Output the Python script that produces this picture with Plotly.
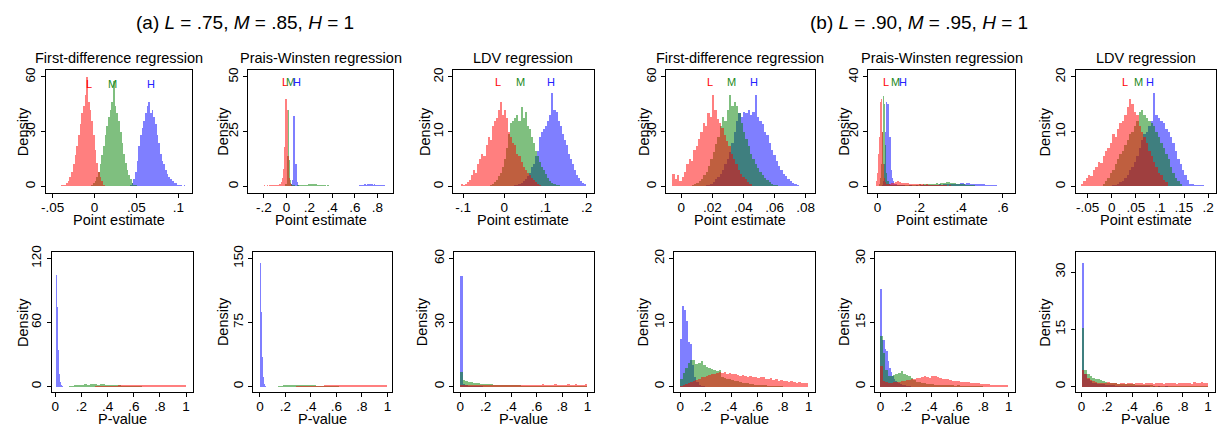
import plotly.graph_objects as go

W, H = 1225, 427

# ---------------- DATA (histogram densities: start, bin width, heights) ----------------
# (a) First-difference, point estimates
fd_a_L_bin = (-0.040, 0.002)
fd_a_L = [1, 1, 0.5, 2, 3, 5, 8, 12, 17, 22, 28, 34, 40, 44, 50, 60, 46, 42, 36, 28, 20, 13, 8, 5, 3, 1]
fd_a_M_bin = (-0.004, 0.002)
fd_a_M = [1, 2, 3, 5, 8, 12, 17, 22, 28, 33, 38, 42, 46, 58, 44, 40, 36, 30, 24, 18, 13, 9, 6, 4, 2, 1, 1]
fd_a_H_bin = (0.042, 0.002)
fd_a_H = [1, 2, 4, 8, 14, 22, 28, 32, 36, 40, 44, 46, 40, 42, 38, 34, 28, 24, 18, 14, 12, 9, 7, 5, 4, 3, 2, 2, 1, 1, 1, 0, 1]

# (a) Prais-Winsten, point estimates
pw_a_L_bin = (-0.29, 0.01)
pw_a_L = [0.2, 0.3, 0.2, 0.3, 0.2, 0.2, 0.3, 0.3, 0.2, 0.4, 0.3, 0.3, 0.4, 0.3, 0.4, 0.5, 0.4, 0.5, 0.6, 0.5,
          0.7, 0.8, 0.9, 1.2, 2, 4, 8, 18, 40, 35, 14, 4, 1.5, 0.5]
pw_a_M_bin = (-0.01, 0.01)
pw_a_M = [1, 14, 35, 12, 3, 1, 0.5, 0.4, 0.3, 0.3, 0.4, 0.5, 0.4, 0.5, 0.6, 0.5, 0.6, 0.7, 0.6, 0.8, 0.9, 1.0,
          1.1, 1.2, 1.0, 1.1, 0.9, 1.0, 0.8, 0.7, 0.8, 0.6, 0.5, 0.6, 0.4, 0.5, 0.3, 0.4, 0.3, 0.2, 0.3, 0.2, 0.2,
          0.1, 0.1]
pw_a_H_bin = (0.04, 0.01)
pw_a_H = [1, 3, 32, 10, 10, 2, 0.5]
pw_a_H_tail_bin = (0.63, 0.01)
pw_a_H_tail = [0.3, 0.5, 0.6, 0.8, 0.7, 0.9, 1, 0.8, 0.9, 1.1, 1, 0.9, 1, 0.8, 0.9, 0.7, 0.8, 0.6, 0.7, 0.5, 0.6,
               0.5, 0.4, 0.4, 0.3, 0.3, 0.2]

# (a) LDV, point estimates
ldv_a_L_bin = (-0.105, 0.005)
ldv_a_L = [0.5, 0.3, 0.5, 0.8, 1.2, 2, 3, 2.5, 4, 5, 6, 5.5, 7.5, 9, 8.5, 11, 12, 12.5, 14, 15.5, 13, 14, 12.5,
           10, 9, 8, 7.5, 6, 5.5, 4.5, 3.5, 3, 2.5, 2, 1.5, 1.2, 0.8, 0.5, 0.3]
ldv_a_M_bin = (-0.035, 0.005)
ldv_a_M = [0.3, 0.5, 0.8, 1.2, 1.8, 2.5, 3.5, 5, 7, 9.5, 11.5, 12, 12.5, 13, 12, 14.5, 12.5, 13.5, 11, 10.5, 9, 8,
           6.5, 5.5, 4.5, 3.5, 3, 2.2, 1.5, 1, 0.7, 0.5, 0.3, 0.2]
ldv_a_H_bin = (0.025, 0.005)
ldv_a_H = [0.2, 0.3, 0.4, 0.6, 0.9, 1.3, 1.8, 2.5, 3.5, 4, 5.5, 6.5, 9, 10, 10.5, 11, 12, 13, 17, 14, 13.5, 12, 11,
           9.5, 8.5, 7.5, 6, 5, 4, 3, 2, 1.5, 1, 0.6, 0.4]

# (b) First-difference, point estimates
fd_b_L_bin = (-0.0055, 0.0015)
fd_b_L = [7, 4, 6, 3, 5, 8, 12, 15, 14, 20, 22, 26, 30, 35, 33, 40, 38, 50, 42, 37, 35, 32, 28, 25, 22, 18, 15, 12,
          9, 7, 5, 4, 2.5, 1.5]
fd_b_M_bin = (0.007, 0.0015)
fd_b_M = [1, 1.5, 2, 3, 4, 6, 8, 11, 15, 19, 23, 27, 33, 38, 36, 42, 50, 44, 46, 44, 40, 35, 30, 26, 22, 18, 15, 12,
          10, 8, 6, 4.5, 3.5, 2.5, 1.5, 1, 0.5]
fd_b_H_bin = (0.016, 0.0015)
fd_b_H = [0.5, 1, 1.5, 2.5, 4, 5, 7, 9, 12, 15, 19, 24, 30, 36, 40, 38, 41, 40, 42, 39, 41, 50, 38, 36, 34, 30, 28,
          24, 20, 17, 14, 11, 9, 7, 5.5, 4, 3, 2, 1.5, 1]

# (b) Prais-Winsten, point estimates
pw_b_L_bin = (-0.005, 0.005)
pw_b_L = [2, 5, 12, 18, 31, 32, 20, 8, 3, 1.5, 1, 0.8]
pw_b_L_tail_bin = (0.055, 0.01)
pw_b_L_tail = [1.0, 1.1, 1.3, 1.6, 1.8, 1.5, 1.4, 1.2, 1.3, 1.1, 1.0, 0.9, 1.0, 0.8, 0.9, 0.7, 0.8, 0.6, 0.7, 0.6,
               0.5, 0.6, 0.5, 0.5, 0.4, 0.5, 0.4, 0.4, 0.3, 0.4, 0.3, 0.3, 0.3, 0.2, 0.3, 0.2, 0.2, 0.2, 0.2, 0.15,
               0.2, 0.1, 0.15, 0.1, 0.1, 0.1, 0.1, 0.05, 0.1, 0.05, 0.05, 0.05, 0.05, 0.05, 0.05]
pw_b_M_bin = (0.01, 0.005)
pw_b_M = [1, 3, 8, 20, 33, 30, 15, 5, 2, 1]
pw_b_M_tail_bin = (0.06, 0.01)
pw_b_M_tail = [0.6, 0.5, 0.5, 0.4, 0.4, 0.5, 0.4, 0.5, 0.5, 0.4, 0.5, 0.6, 0.5, 0.6, 0.7, 0.6, 0.7, 0.8, 0.7, 0.8,
               0.9, 1.0, 1.1, 1.0, 1.2, 1.4, 1.3, 1.5, 1.6, 1.4, 1.2, 1.3, 1.0, 0.9, 0.8, 0.7, 0.6, 0.6, 0.5, 0.4,
               0.4, 0.3, 0.3, 0.3, 0.2, 0.2, 0.2, 0.1, 0.1, 0.1]
pw_b_H_bin = (0.025, 0.005)
pw_b_H = [0.5, 2, 8, 20, 31, 30, 18, 18, 6, 3, 2, 1]
pw_b_H_tail_bin = (0.085, 0.01)
pw_b_H_tail = [0.8, 0.6, 0.5, 0.4, 0.4, 0.3, 0.3, 0.4, 0.3, 0.3, 0.4, 0.3, 0.4, 0.4, 0.5, 0.4, 0.5, 0.5, 0.6, 0.5,
               0.6, 0.7, 0.6, 0.7, 0.8, 0.7, 0.8, 0.9, 0.8, 0.9, 1.0, 1.1, 1.2, 1.0, 1.1, 1.2, 1.0, 0.9, 1.0, 0.8,
               0.9, 0.7, 0.8, 0.6, 0.6, 0.5, 0.5, 0.4, 0.4, 0.3, 0.3, 0.2, 0.2]

# (b) LDV, point estimates
ldv_b_L_bin = (-0.065, 0.005)
ldv_b_L = [0.5, 1, 1.5, 2, 1.8, 3, 3.5, 4.5, 4.2, 5.5, 6.5, 7, 8, 9.5, 9, 10.5, 11.5, 12, 13, 14.5, 16, 15, 13.5,
           13, 11, 10, 9, 8, 6.5, 5.5, 4.5, 3.5, 2.5, 2, 1.2, 0.8]
ldv_b_M_bin = (-0.02, 0.005)
ldv_b_M = [0.5, 1, 1.5, 2.5, 3, 4, 5, 6, 6.5, 7.5, 8.5, 9.5, 10, 11, 12, 13.5, 14, 13, 12.5, 12, 11.5, 11, 10, 9,
           8, 7, 6, 5, 3.5, 2.5, 1.5, 1, 0.5]
ldv_b_H_bin = (0.0, 0.005)
ldv_b_H = [0.2, 0.3, 0.5, 0.8, 1, 1.5, 2, 3, 3.5, 4.5, 5.5, 7, 8.5, 9.5, 10, 11, 12, 17, 13, 12.5, 12, 11.5, 10.5,
           10, 9, 8, 6.5, 5, 4, 3, 2, 1.2, 0.5, 0.4, 0.3, 0.3, 0.2, 0.3]

# (a) P-values
fd_pa_H_bin = (0.0, 0.008)
fd_pa_H = [105, 75, 35, 12, 5, 2, 1]
fd_pa_M_bin = (0.10, 0.02)
fd_pa_M = [0.8, 1, 1.5, 1.8, 2, 2.2, 2.5, 2.4, 2.6, 2.5, 2.8, 2.4, 2.6, 2.5, 2.3, 2.4, 2.2, 2, 1.8, 1.6, 1.4, 1.2,
           1, 0.9, 0.8, 0.7, 0.6, 0.6, 0.5, 0.5, 0.4, 0.4, 0.4, 0.3, 0.3, 0.3, 0.3, 0.2, 0.2, 0.2, 0.2, 0.2, 0.1,
           0.1, 0.1]
fd_pa_L_bin = (0.20, 0.02)
fd_pa_L = [0.2, 0.3, 0.3, 0.4, 0.5, 0.6, 0.7, 0.8, 0.9, 1, 1.1, 1.2, 1.3, 1.4, 1.5, 1.6, 1.6, 1.7, 1.8, 1.7, 1.8,
           1.9, 1.8, 1.7, 2, 1.8, 1.9, 1.8, 1.7, 1.9, 1.8, 2, 1.8, 1.9, 1.7, 1.8, 2.2, 1.9, 1.8, 2.4]

pw_pa_H_bin = (0.0, 0.008)
pw_pa_H = [145, 88, 35, 12, 4, 1]
pw_pa_M_bin = (0.12, 0.02)
pw_pa_M = [0.5, 1, 1.5, 2, 2.2, 2.5, 2.8, 3, 2.7, 2.9, 2.6, 2.8, 2.5, 2.4, 2.2, 2, 1.8, 1.6, 1.4, 1.2, 1, 0.9, 0.8,
           0.8, 0.7, 0.6, 0.6, 0.5, 0.5, 0.4, 0.4, 0.3, 0.3, 0.3, 0.3, 0.2, 0.2, 0.2, 0.2, 0.2, 0.1, 0.1, 0.1, 0.1]
pw_pa_L_bin = (0.02, 0.02)
pw_pa_L = [0.3, 0.3, 0.2, 0.3, 0.3, 0.4, 0.3, 0.4, 0.4, 0.5, 0.5, 0.6, 0.6, 0.7, 0.8, 0.9, 1, 1.1, 1.2, 1.4, 1.5,
           1.6, 1.7, 1.8, 1.9, 2, 1.9, 2.1, 2, 2.2, 2.1, 2, 2.3, 2.2, 2.1, 2.4, 2.2, 2.5, 3, 2.3, 2.4, 2.2, 2.3, 2.5,
           2.4, 2.6, 2.3, 2.4, 2.6]

ldv_pa_H_bin = (0.0, 0.02)
ldv_pa_H = [52, 1.5, 0.8, 0.6, 0.5, 0.4, 0.4, 0.3, 0.3, 0.2, 0.2, 0.2, 0.1, 0.1, 0.1]
ldv_pa_M_bin = (0.0, 0.02)
ldv_pa_M = [7, 3.5, 2.8, 2.5, 2.2, 2, 1.9, 1.8, 1.6, 1.5, 1.4, 1.3, 1.3, 1.2, 1.1, 1.1, 1.0, 1.0, 0.9, 0.9, 0.9,
            0.8, 0.8, 0.8, 0.7, 0.7, 0.7, 0.6, 0.7, 0.6, 0.6, 0.6, 0.5, 0.6, 0.5, 0.5, 0.5, 0.5, 0.4, 0.5, 0.4, 0.4,
            0.4, 0.4, 0.3, 0.4, 0.3, 0.3, 0.3, 0.3]
ldv_pa_L_bin = (0.0, 0.02)
ldv_pa_L = [1.2, 1, 0.9, 1, 0.8, 0.9, 0.8, 0.9, 0.8, 0.9, 1, 0.9, 1, 0.9, 1, 1.1, 1, 1.1, 1, 1.1, 1.2, 1, 1.1, 1,
            1.2, 1.1, 1, 1.2, 1.1, 1, 1.2, 1.1, 1.3, 1.1, 1, 1.2, 1.1, 1.3, 1.2, 1, 1.1, 1.2, 1.4, 1.1, 1.2, 1.3,
            1.1, 1.2, 1.1, 1.3]

# (b) P-values
fd_pb_H_bin = (0.0, 0.016)
fd_pb_H = [7.5, 12.7, 12, 10.3, 7, 6.8, 3.5, 1.5, 0.8, 0.4, 0.2, 0.1]
fd_pb_M_bin = (0.0, 0.02)
fd_pb_M = [1.2, 2.2, 3, 3.8, 4.2, 4.3, 3.6, 3.8, 4.0, 3.5, 3.2, 2.9, 2.8, 2.6, 2.5, 2.6, 1.6, 1.4, 1.3, 1.2, 1.1,
           1.0, 0.9, 0.8, 0.7, 0.6, 0.6, 0.5, 0.5, 0.4, 0.4, 0.3, 0.3, 0.3, 0.2, 0.2, 0.2, 0.2, 0.1, 0.1]
fd_pb_L_bin = (0.0, 0.02)
fd_pb_L = [0.2, 0.3, 0.5, 0.6, 0.8, 1.0, 1.1, 1.3, 1.5, 1.6, 1.8, 1.9, 2.0, 2.1, 2.2, 2.3, 2.2, 2.4, 2.1, 2.2, 2.0,
           2.1, 1.9, 1.8, 1.9, 1.7, 1.6, 1.8, 1.5, 1.6, 1.4, 1.5, 1.6, 1.3, 1.2, 1.4, 1.1, 1.2, 1.0, 1.1, 0.9, 1.0,
           0.8, 0.9, 0.8, 0.7, 0.8, 0.6, 0.7, 0.6]

pw_pb_H_bin = (0.0, 0.012)
pw_pb_H = [23, 11, 11, 9, 8.5, 6, 4.5, 3.5, 2.5, 2, 1.5, 1.2, 1, 0.8, 0.6, 0.5, 0.4, 0.3, 0.2, 0.2]
pw_pb_M_bin = (0.0, 0.02)
pw_pb_M = [12, 8, 4, 2.5, 2.6, 2.8, 3.0, 3.2, 3.8, 3.0, 2.8, 2.5, 2.2, 1.6, 1.3, 1.1, 1.0, 0.9, 0.8, 0.7, 0.7, 0.6,
           0.6, 0.5, 0.5, 0.4, 0.5, 0.4, 0.4, 0.3, 0.4, 0.3, 0.3, 0.3, 0.2, 0.3, 0.2, 0.2, 0.2, 0.2, 0.1]
pw_pb_L_bin = (0.0, 0.02)
pw_pb_L = [5, 1.5, 1.2, 1, 1, 1.1, 1.2, 1.3, 1.4, 1.5, 1.6, 1.7, 1.8, 2, 2.2, 2.1, 2.3, 2.5, 2.4, 2.2, 2.5, 2.6,
           2.3, 2.2, 2, 1.9, 1.8, 1.6, 1.5, 1.5, 1.4, 1.3, 1.2, 1.2, 1.1, 1, 1, 0.9, 0.9, 0.8, 0.8, 0.7, 0.7, 0.6,
           0.6, 0.6, 0.5, 0.5, 0.5, 0.4]

ldv_pb_H_bin = (0.0, 0.02)
ldv_pb_H = [32.5, 3.5, 2.2, 1.5, 1.2, 1, 0.9, 0.8, 0.7, 0.6, 0.6, 0.5, 0.5, 0.4, 0.4, 0.3, 0.3, 0.3, 0.3, 0.2, 0.3,
            0.2, 0.2, 0.2, 0.2, 0.2, 0.2, 0.1, 0.2, 0.1, 0.2, 0.1, 0.1, 0.2, 0.1, 0.1, 0.1, 0.1, 0.1, 0.1, 0.1, 0.1,
            0.1, 0.1, 0.1, 0.1, 0.1, 0.1, 0.1, 0.1]
ldv_pb_M_bin = (0.0, 0.02)
ldv_pb_M = [15.5, 4.5, 3.5, 3, 2.5, 2.2, 2, 1.8, 1.5, 1.3, 1.2, 1.1, 1, 1, 0.9, 0.9, 0.8, 0.8, 0.7, 0.7, 0.7, 0.6,
            0.6, 0.6, 0.5, 0.5, 0.5, 0.5, 0.4, 0.4, 0.4, 0.4, 0.4, 0.3, 0.3, 0.3, 0.3, 0.3, 0.3, 0.3, 0.3, 0.2, 0.2,
            0.2, 0.2, 0.2, 0.2, 0.2, 0.2, 0.2]
ldv_pb_L_bin = (0.0, 0.02)
ldv_pb_L = [4.5, 3.5, 2.5, 1.8, 1.5, 1.3, 1.2, 1.1, 1, 1.2, 1.4, 1, 1.1, 1, 0.9, 1, 1.1, 0.9, 1, 1.1, 0.9, 1, 1.1,
            1, 0.9, 1, 1, 1.1, 0.9, 1, 1.1, 1, 0.9, 1, 1.1, 1, 1, 0.9, 1.1, 1, 1.1, 1.2, 1, 0.9, 1.3, 1, 1.1, 1.4, 1,
            1.1]

# label positions (L, M, H) in data units
fd_a_lab = [(-0.007, 56), (0.022, 56), (0.067, 56)]
pw_a_lab = [(-0.012, 47.5), (0.035, 47.5), (0.095, 47.5)]
ldv_a_lab = [(-0.015, 19.1), (0.039, 19.1), (0.114, 19.1)]
fd_b_lab = [(0.0185, 57), (0.0326, 57), (0.0466, 57)]
pw_b_lab = [(0.043, 38), (0.086, 38), (0.124, 38)]
ldv_b_lab = [(0.027, 19), (0.056, 19), (0.080, 19)]

# ---------------- LAYOUT / STYLE ----------------
COL = {"L": "rgba(255,0,0,0.5)", "M": "rgba(0,128,0,0.5)", "H": "rgba(0,0,255,0.5)"}
TXT = {"L": "#ff0000", "M": "#1a8a1a", "H": "#2222ff"}
FONT = "Liberation Sans, Arial, Helvetica, sans-serif"

top_xt = {
    "fd_a": ([-0.05, 0, 0.05, 0.1], ["-.05", "0", ".05", ".1"]),
    "pw_a": ([-0.2, 0, 0.2, 0.4, 0.6, 0.8], ["-.2", "0", ".2", ".4", ".6", ".8"]),
    "ldv_a": ([-0.1, 0, 0.1, 0.2], ["-.1", "0", ".1", ".2"]),
    "fd_b": ([0, 0.02, 0.04, 0.06, 0.08], ["0", ".02", ".04", ".06", ".08"]),
    "pw_b": ([0, 0.2, 0.4, 0.6], ["0", ".2", ".4", ".6"]),
    "ldv_b": ([-0.05, 0, 0.05, 0.1, 0.15, 0.2], ["-.05", "0", ".05", ".1", ".15", ".2"]),
}
p_xt = ([0, 0.2, 0.4, 0.6, 0.8, 1], ["0", ".2", ".4", ".6", ".8", "1"])

panels = [
    dict(series={"H": [(fd_a_H_bin, fd_a_H)], "M": [(fd_a_M_bin, fd_a_M)], "L": [(fd_a_L_bin, fd_a_L)]},
         box=(41, 188, 65, 190), xr=(-0.058, 0.1165), ytop=60, xt=top_xt["fd_a"],
         title="First-difference regression", xtitle="Point estimate", doff=-23.5, lab=fd_a_lab),
    dict(series={"H": [(pw_a_H_bin, pw_a_H), (pw_a_H_tail_bin, pw_a_H_tail)], "M": [(pw_a_M_bin, pw_a_M)],
                 "L": [(pw_a_L_bin, pw_a_L)]},
         box=(244, 390, 65, 190), xr=(-0.339, 0.94), ytop=50, xt=top_xt["pw_a"],
         title="Prais-Winsten regression", xtitle="Point estimate", doff=-25, lab=pw_a_lab),
    dict(series={"H": [(ldv_a_H_bin, ldv_a_H)], "M": [(ldv_a_M_bin, ldv_a_M)], "L": [(ldv_a_L_bin, ldv_a_L)]},
         box=(450, 591, 65, 190), xr=(-0.124, 0.217), ytop=20, xt=top_xt["ldv_a"],
         title="LDV regression", xtitle="Point estimate", doff=-29, lab=ldv_a_lab),
    dict(series={"H": [(fd_b_H_bin, fd_b_H)], "M": [(fd_b_M_bin, fd_b_M)], "L": [(fd_b_L_bin, fd_b_L)]},
         box=(664, 813, 65, 190), xr=(-0.0096, 0.0858), ytop=60, xt=top_xt["fd_b"],
         title="First-difference regression", xtitle="Point estimate", doff=-23, lab=fd_b_lab),
    dict(series={"H": [(pw_b_H_bin, pw_b_H), (pw_b_H_tail_bin, pw_b_H_tail)],
                 "M": [(pw_b_M_bin, pw_b_M), (pw_b_M_tail_bin, pw_b_M_tail)],
                 "L": [(pw_b_L_bin, pw_b_L), (pw_b_L_tail_bin, pw_b_L_tail)]},
         box=(867, 1014, 65, 190), xr=(-0.043, 0.657), ytop=40, xt=top_xt["pw_b"],
         title="Prais-Winsten regression", xtitle="Point estimate", doff=-24.5, lab=pw_b_lab),
    dict(series={"H": [(ldv_b_H_bin, ldv_b_H)], "M": [(ldv_b_M_bin, ldv_b_M)], "L": [(ldv_b_L_bin, ldv_b_L)]},
         box=(1075, 1216, 65, 190), xr=(-0.075, 0.2165), ytop=20, xt=top_xt["ldv_b"],
         title="LDV regression", xtitle="Point estimate", doff=-31, lab=ldv_b_lab),
    dict(series={"H": [(fd_pa_H_bin, fd_pa_H)], "M": [(fd_pa_M_bin, fd_pa_M)], "L": [(fd_pa_L_bin, fd_pa_L)]},
         box=(47, 189, 249, 392), xr=(-0.027, 1.055), ytop=120, xt=p_xt,
         title=None, xtitle="P-value", doff=-29, lab=None),
    dict(series={"H": [(pw_pa_H_bin, pw_pa_H)], "M": [(pw_pa_M_bin, pw_pa_M)], "L": [(pw_pa_L_bin, pw_pa_L)]},
         box=(249, 389, 249, 392), xr=(-0.055, 1.039), ytop=150, xt=p_xt,
         title=None, xtitle="P-value", doff=-30, lab=None),
    dict(series={"H": [(ldv_pa_H_bin, ldv_pa_H)], "M": [(ldv_pa_M_bin, ldv_pa_M)], "L": [(ldv_pa_L_bin, ldv_pa_L)]},
         box=(451, 591, 249, 392), xr=(-0.047, 1.047), ytop=60, xt=p_xt,
         title=None, xtitle="P-value", doff=-32, lab=None),
    dict(series={"H": [(fd_pb_H_bin, fd_pb_H)], "M": [(fd_pb_M_bin, fd_pb_M)], "L": [(fd_pb_L_bin, fd_pb_L)]},
         box=(672, 813, 249, 392), xr=(-0.047, 1.047), ytop=20, xt=p_xt,
         title=None, xtitle="P-value", doff=-31, lab=None),
    dict(series={"H": [(pw_pb_H_bin, pw_pb_H)], "M": [(pw_pb_M_bin, pw_pb_M)], "L": [(pw_pb_L_bin, pw_pb_L)]},
         box=(874, 1014, 249, 392), xr=(-0.039, 1.047), ytop=30, xt=p_xt,
         title=None, xtitle="P-value", doff=-31.5, lab=None),
    dict(series={"H": [(ldv_pb_H_bin, ldv_pb_H)], "M": [(ldv_pb_M_bin, ldv_pb_M)], "L": [(ldv_pb_L_bin, ldv_pb_L)]},
         box=(1075, 1215, 249, 392), xr=(-0.047, 1.055), ytop=30, xt=p_xt,
         title=None, xtitle="P-value", doff=-31, lab=None, yr=(-1.55, 35.4)),
]

fig = go.Figure()
layout = dict(width=W, height=H, margin=dict(l=0, r=0, t=0, b=0), paper_bgcolor="white",
              plot_bgcolor="white", barmode="overlay", bargap=0, showlegend=False,
              font=dict(family=FONT, size=14, color="black"))
annotations = []

def px(x):
    return x / W

def py(y):
    return 1 - y / H

for i, p in enumerate(panels):
    n = i + 1
    xa = "x" if n == 1 else f"x{n}"
    ya = "y" if n == 1 else f"y{n}"
    for key in ["H", "M", "L"]:
        for (start, width), vals in p["series"][key]:
            xs = [start + width * (k + 0.5) for k in range(len(vals))]
            fig.add_trace(go.Bar(x=xs, y=vals, width=width, xaxis=xa, yaxis=ya,
                                 marker=dict(color=COL[key], line=dict(width=0)),
                                 hoverinfo="skip"))
    x0, x1, y0, y1 = p["box"]
    T = p["ytop"]
    if "yr" in p:
        yr = p["yr"]
    elif y0 < 200:
        yr = (-7 / 111 * T, T + 7 / 111 * T)
    else:
        yr = (-6 / 130 * T, T + 7 / 130 * T)
    axcommon = dict(showline=True, linecolor="black", linewidth=1, mirror=True, ticks="outside",
                    ticklen=4, tickcolor="black", showgrid=False, zeroline=False,
                    tickfont=dict(family=FONT, size=13.5, color="black"))
    layout["xaxis" if n == 1 else f"xaxis{n}"] = dict(
        domain=[px(x0), px(x1)], range=list(p["xr"]), anchor=ya,
        tickvals=p["xt"][0], ticktext=p["xt"][1], ticklabelstandoff=-3, **axcommon)
    layout["yaxis" if n == 1 else f"yaxis{n}"] = dict(
        domain=[py(y1), py(y0)], range=list(yr), anchor=xa,
        tickvals=[0, T / 2, T], ticktext=[f"{v:g}" for v in (0, T / 2, T)], tickangle=-90,
        **axcommon)
    cx = (x0 + x1) / 2
    if p["title"]:
        annotations.append(dict(text=p["title"], x=px(cx), y=py(53), xref="paper", yref="paper",
                                showarrow=False, xanchor="center", yanchor="middle",
                                font=dict(family=FONT, size=14.5, color="black")))
    annotations.append(dict(text=p["xtitle"], x=px(cx), y=py(y1 + 27), xref="paper", yref="paper",
                            showarrow=False, xanchor="center", yanchor="middle",
                            font=dict(family=FONT, size=14.5, color="black")))
    annotations.append(dict(text="Density", x=px(x0 + p["doff"]), y=py((y0 + y1) / 2), xref="paper",
                            yref="paper", showarrow=False, xanchor="center", yanchor="middle",
                            textangle=-90, font=dict(family=FONT, size=14.5, color="black")))
    if p["lab"]:
        for key, (lx, ly) in zip(["L", "M", "H"], p["lab"]):
            annotations.append(dict(text=key, x=lx, y=ly, xref=xa, yref=ya, showarrow=False,
                                    xanchor="center", yanchor="middle",
                                    font=dict(family=FONT, size=11, color=TXT[key])))

annotations.append(dict(text="(a) <i>L</i> = .75, <i>M</i> = .85, <i>H</i> = 1", x=px(241), y=py(17),
                        xref="paper", yref="paper", showarrow=False, xanchor="center", yanchor="middle",
                        font=dict(family=FONT, size=19, color="black")))
annotations.append(dict(text="(b) <i>L</i> = .90, <i>M</i> = .95, <i>H</i> = 1", x=px(918), y=py(17),
                        xref="paper", yref="paper", showarrow=False, xanchor="center", yanchor="middle",
                        font=dict(family=FONT, size=19, color="black")))

layout["annotations"] = annotations
fig.update_layout(**layout)
fig.write_html("out.html", config={"displayModeBar": False},
               post_script="document.body.style.margin='0px';document.body.style.overflow='hidden';")
